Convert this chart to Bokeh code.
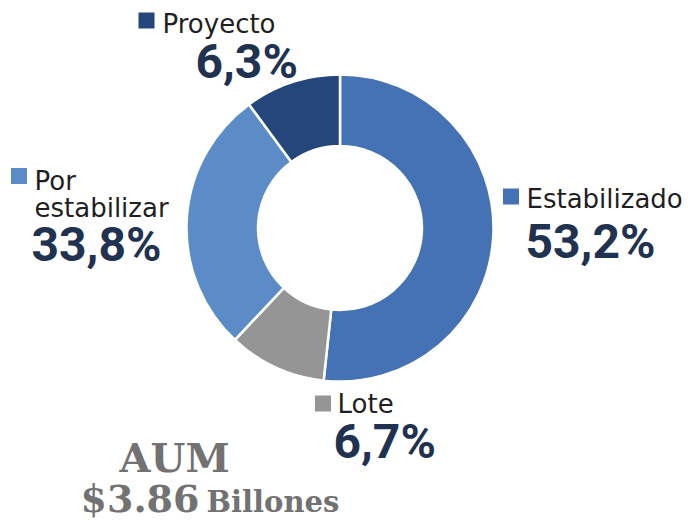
import math
from bokeh.plotting import figure
from bokeh.models import ColumnDataSource, Range1d
from bokeh.core.properties import value
from bokeh.embed import file_html
from bokeh.resources import INLINE

# ---- data ----
categories = ["Estabilizado", "Lote", "Por estabilizar", "Proyecto"]
label_pct = ["53,2%", "6,7%", "33,8%", "6,3%"]
drawn_share = [51.7, 10.3, 27.9, 10.1]   # slice sizes as drawn in the picture
colors = ["#4472B5", "#959595", "#5B8CC7", "#25467B"]
aum_title = "AUM"
aum_value = "$3.86"
aum_unit = "Billones"

W, H = 688, 525
p = figure(width=W, height=H, output_backend="svg", toolbar_location=None,
           x_range=Range1d(0, W), y_range=Range1d(0, H), min_border=0)
p.axis.visible = False
p.grid.visible = False
p.outline_line_color = None
p.background_fill_color = "white"
p.border_fill_color = "white"

def X(x):
    return x
def Y(y):
    return H - y

K = 0.365  # baseline compensation factor (fraction of font size)

def put(txt, x, base, font, size, color, bold=False):
    p.text(x=[X(x)], y=[Y(base) + K * size], text=[txt], text_font=value(font),
           text_font_style="bold" if bold else "normal",
           text_font_size=f"{size}px", text_color=color,
           text_baseline="alphabetic", text_align="left")

# donut
total = sum(drawn_share)
cum = [0.0]
for v in drawn_share:
    cum.append(cum[-1] + v / total)
starts = [math.pi / 2 - 2 * math.pi * cum[i + 1] for i in range(len(drawn_share))]
ends = [math.pi / 2 - 2 * math.pi * cum[i] for i in range(len(drawn_share))]
src = ColumnDataSource(dict(x=[X(339.5)] * 4, y=[Y(227.5)] * 4,
                            s=starts, e=ends, c=colors, cat=categories))
p.annular_wedge(x="x", y="y", inner_radius=82, outer_radius=153.5,
                start_angle="s", end_angle="e", fill_color="c",
                line_color="white", line_width=2.5, source=src)

# labels: (square center x, y), label lines [(x, baseline)], pct (x, baseline)
layout = {
    "Estabilizado": ((510.5, 196), [("Estabilizado", 526, 208)], (525, 259)),
    "Lote": ((322.5, 403), [("Lote", 337, 413)], (333, 459)),
    "Por estabilizar": ((18.5, 175.5), [("Por", 34, 190), ("estabilizar", 34, 217)], (31, 262)),
    "Proyecto": ((146, 20), [("Proyecto", 162, 33)], (195, 79)),
}
for cat, pct, col in zip(categories, label_pct, colors):
    (sx, sy), lines, (px, py) = layout[cat]
    p.rect(x=[X(sx)], y=[Y(sy)], width=16, height=16, fill_color=col, line_color=None)
    for txt, lx, ly in lines:
        put(txt, lx, ly, "DejaVu Sans", 26, "#1f1f1f")
    put(pct, px, py, "Roboto", 48, "#1F3350", bold=True)

# AUM block
put(aum_title, 119, 472, "DejaVu Serif", 40, "#737273", bold=True)
put(aum_value, 80, 512, "DejaVu Serif", 38, "#737273", bold=True)
put(aum_unit, 206, 512, "DejaVu Serif", 29, "#737273", bold=True)

open("out.html", "w").write(file_html(p, INLINE))
